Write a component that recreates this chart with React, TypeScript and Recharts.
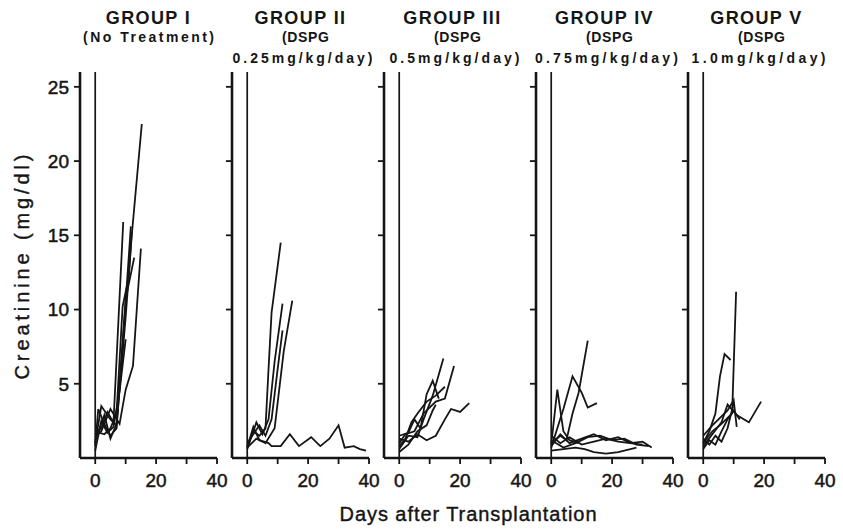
import { LineChart, Line, XAxis, YAxis, ReferenceLine } from "recharts";

const FONT = "'Liberation Sans', Arial, Helvetica, sans-serif";
const INK = "#151515";

const dayTicks = [0, 10, 20, 30, 40];
const dayLabels = [0, 20, 40];
const creatinineTicks = [5, 10, 15, 20, 25];

// each animal: [day, creatinine mg/dl]
const groupI = [
  [[0, 1.0], [2, 3.5], [5, 2.6], [7, 2.2], [10, 9.5], [12, 15.0], [15.3, 22.5]],
  [[0, 1.6], [2, 2.0], [4, 3.1], [6, 2.4], [9.2, 15.9]],
  [[0, 0.8], [1, 3.3], [3, 2.3], [5, 1.5], [7, 2.0], [9, 7.5], [11.7, 15.6]],
  [[0, 1.4], [2, 1.8], [5, 3.3], [8, 2.3], [10, 4.6], [12.4, 6.2], [15, 14.1]],
  [[0, 1.2], [3, 2.9], [5, 1.3], [7, 2.3], [10, 10.7], [12.8, 13.5]],
  [[0, 0.5], [2, 2.5], [4, 1.7], [6, 2.1], [8, 4.5], [10, 8.0]],
  [[0, 1.8], [3, 1.6], [5, 2.0], [7, 3.0], [9, 10.2], [11, 12.2], [12, 15.2]],
];

const groupII = [
  [[0, 0.8], [2, 1.8], [4, 1.5], [6, 2.0], [7, 6.0], [8, 9.8], [11, 14.5]],
  [[0, 0.6], [3, 2.4], [5, 1.6], [7, 2.6], [9, 6.5], [11.6, 10.4]],
  [[0, 1.0], [2, 1.6], [4, 2.2], [6, 1.5], [8, 2.6], [10, 6.0], [11.6, 8.6]],
  [[0, 0.7], [3, 1.3], [6, 1.0], [9, 2.0], [12, 7.2], [14.8, 10.6]],
  [[0, 0.7], [2, 2.1], [4, 1.2], [7, 1.0], [8, 0.8], [11, 0.8], [14, 1.6], [17, 0.8], [21, 1.4], [24, 0.8], [27, 1.3], [30, 2.2], [32, 0.7], [35, 0.8], [37, 0.6], [39, 0.5]],
];

const groupIII = [
  [[0, 0.6], [3, 1.5], [6, 1.4], [8, 2.6], [11, 4.2], [14.5, 6.7]],
  [[0, 1.0], [2, 1.6], [5, 1.8], [8, 3.0], [12, 3.8], [15, 4.0], [18, 6.2]],
  [[0, 1.3], [3, 1.1], [6, 1.6], [9, 1.2], [12, 1.5], [15, 2.6], [17, 3.3], [20, 3.1], [23, 3.7]],
  [[0, 0.8], [2, 1.3], [4, 2.4], [6, 3.0], [9, 3.8], [12, 4.2], [15, 4.8]],
  [[0, 1.5], [3, 1.7], [5, 2.6], [7, 2.0], [9, 4.3], [11, 5.2], [13, 4.0]],
  [[0, 0.4], [3, 0.9], [6, 1.8], [9, 2.2], [11, 3.2], [12, 3.6]],
];

const groupIV = [
  [[0, 1.0], [3, 1.5], [5, 1.2], [7, 3.0], [9, 4.4], [12, 7.9]],
  [[0, 0.7], [2, 2.0], [4, 3.3], [7, 5.5], [10, 4.4], [12, 3.4], [15, 3.7]],
  [[0, 0.9], [2, 4.6], [4, 1.8], [6, 1.2], [9, 1.0]],
  [[0, 0.8], [3, 1.6], [6, 1.0], [10, 1.3], [14, 1.6], [18, 1.2], [22, 1.4], [26, 1.0], [30, 1.1], [33, 0.7]],
  [[0, 1.2], [4, 0.7], [8, 1.0], [12, 1.4], [16, 1.5], [20, 1.2], [24, 1.3], [28, 0.9], [32, 0.8]],
  [[0, 0.5], [4, 0.6], [8, 0.7], [11, 0.6], [14, 0.4], [18, 0.3], [22, 0.4], [26, 0.6], [28, 0.7]],
  [[0, 1.5], [3, 1.0], [6, 1.4], [10, 0.9], [14, 1.1], [18, 1.3], [22, 1.1], [26, 1.0], [30, 0.9]],
];

const groupV = [
  [[0, 1.0], [3, 1.8], [6, 2.3], [9.5, 3.0], [10.8, 11.2]],
  [[0, 1.0], [2, 1.8], [4, 3.0], [5.5, 5.5], [7, 7.0], [9, 6.6]],
  [[0, 0.8], [3, 1.6], [6, 2.4], [8, 3.6], [11, 2.9], [15, 2.4], [19, 3.8]],
  [[0, 1.5], [3, 2.2], [6, 2.8], [8, 3.2], [10, 3.9], [11, 2.1]],
  [[0, 0.6], [2, 1.2], [4, 0.9], [6, 1.8], [8, 2.6], [10, 3.2], [12, 2.6]],
  [[0, 1.3], [2, 0.9], [4, 1.5], [6, 1.1], [8, 2.0], [10, 3.7]],
];

const titles = ["GROUP I", "GROUP II", "GROUP III", "GROUP IV", "GROUP V"];
const doses = ["", "0.25mg/kg/day)", "0.5mg/kg/day)", "0.75mg/kg/day)", "1.0mg/kg/day)"];
const doseWidths = [0, 140, 130, 143, 134];
const panelData = [groupI, groupII, groupIII, groupIV, groupV];

const PLOT_W = 137;
const Y_W = 80;

function Panel({ rats, plotLeft, showY }: { rats: number[][][]; plotLeft: number; showY: boolean }) {
  const axisLine = { stroke: INK, strokeWidth: 2.6 };
  const tickLine = { stroke: INK, strokeWidth: 1.8 };
  const tickStyle = { fontSize: 19, fill: INK, fontFamily: FONT, stroke: INK, strokeWidth: 0.5 };
  return (
    <div style={{ position: "absolute", left: plotLeft - Y_W, top: 0 }}>
      <LineChart width={Y_W + PLOT_W + 22} height={498} margin={{ top: 72, right: 22, bottom: 0, left: 0 }}>
        <XAxis
          type="number"
          dataKey="day"
          domain={[-5, 40]}
          ticks={dayTicks}
          interval={0}
          allowDataOverflow
          height={40}
          axisLine={axisLine}
          tickLine={tickLine}
          tickSize={6}
          tickMargin={10}
          tick={tickStyle}
          tickFormatter={(v: number) => (dayLabels.includes(v) ? String(v) : "")}
        />
        <YAxis
          type="number"
          domain={[0, 26]}
          ticks={creatinineTicks}
          interval={0}
          allowDataOverflow
          width={Y_W}
          axisLine={axisLine}
          tickLine={tickLine}
          tickSize={6}
          tickMargin={5}
          tick={tickStyle}
          tickFormatter={(v: number) => (showY ? String(v) : "")}
        />
        <ReferenceLine x={0} stroke={INK} strokeWidth={1.7} />
        {rats.map((pts, i) => (
          <Line
            key={i}
            data={pts.map(([day, cr]) => ({ day, cr }))}
            dataKey="cr"
            type="linear"
            stroke={INK}
            strokeWidth={1.8}
            dot={false}
            activeDot={false}
            isAnimationActive={false}
          />
        ))}
      </LineChart>
    </div>
  );
}

export default function App() {
  const lefts = [80, 232, 384, 536, 688];
  return (
    <div style={{ position: "absolute", left: 0, top: 0, width: 843, height: 529, background: "#fff" }}>
      {panelData.map((rats, i) => (
        <Panel key={i} rats={rats} plotLeft={lefts[i]} showY={i === 0} />
      ))}
      <svg width={843} height={529} style={{ position: "absolute", left: 0, top: 0, pointerEvents: "none" }}>
        <g fontFamily={FONT} fill={INK}>
          {titles.map((t, i) => {
            const cx = lefts[i] + PLOT_W / 2;
            return (
              <g key={t}>
                <text x={cx} y={24} textAnchor="middle" fontSize={18} fontWeight="bold" letterSpacing={1.4}>
                  {t}
                </text>
                {i === 0 ? (
                  <text x={cx} y={42} textAnchor="middle" fontSize={14} fontWeight="bold" textLength={131} lengthAdjust="spacing">
                    (No Treatment)
                  </text>
                ) : (
                  <>
                    <text x={cx + 5} y={42} textAnchor="middle" fontSize={14} fontWeight="bold" textLength={47} lengthAdjust="spacing">
                      (DSPG
                    </text>
                    <text x={cx + 2} y={63} textAnchor="middle" fontSize={14} fontWeight="bold" textLength={doseWidths[i]} lengthAdjust="spacing">
                      {doses[i]}
                    </text>
                  </>
                )}
              </g>
            );
          })}
          <text
            x={22}
            y={267}
            transform="rotate(-90 22 267)"
            textAnchor="middle"
            dominantBaseline="central"
            fontSize={20}
            stroke={INK}
            strokeWidth={0.4}
            textLength={225}
            lengthAdjust="spacing"
          >
            Creatinine (mg/dl)
          </text>
          <text x={468} y={521} textAnchor="middle" fontSize={20} stroke={INK} strokeWidth={0.4} textLength={257} lengthAdjust="spacing">
            Days after Transplantation
          </text>
        </g>
      </svg>
    </div>
  );
}
